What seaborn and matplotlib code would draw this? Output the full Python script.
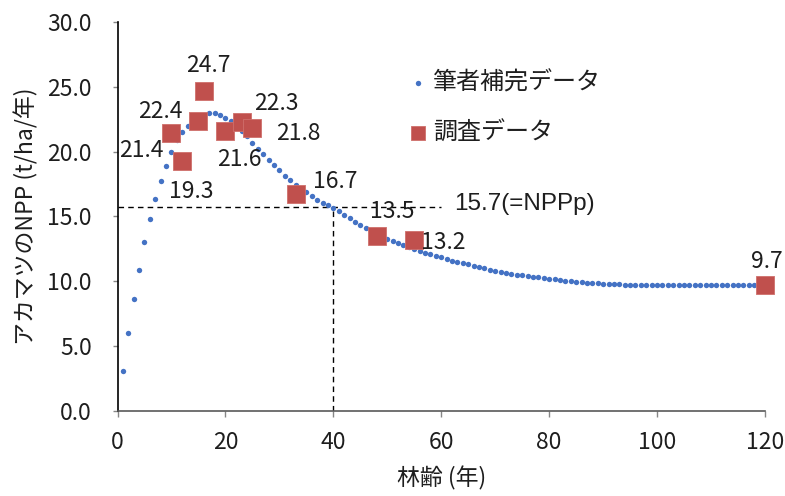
import matplotlib
matplotlib.use("Agg")
import matplotlib.pyplot as plt
import numpy as np
import pandas as pd
import seaborn as sns

# Interpolated (author-completed) NPP by stand age, 1..120 years
curve_age = list(range(1, 121))
curve_npp = [
    3.1, 6.0, 8.6, 10.9, 13.0, 14.8, 16.35, 17.75, 18.9, 20.0,
    20.9, 21.5, 21.95, 22.3, 22.6, 22.85, 23.0, 22.95, 22.8, 22.6,
    22.4, 22.0, 21.6, 21.2, 20.7, 20.2, 19.8, 19.35, 18.95, 18.55,
    18.15, 17.8, 17.45, 17.15, 16.85, 16.55, 16.3, 16.05, 15.85, 15.65,
    15.4, 15.1, 14.85, 14.6, 14.35, 14.1, 13.9, 13.7, 13.5, 13.3,
    13.1, 12.95, 12.8, 12.65, 12.5, 12.35, 12.2, 12.1, 11.95, 11.85,
    11.7, 11.6, 11.5, 11.4, 11.3, 11.2, 11.1, 11.0, 10.9, 10.8,
    10.75, 10.65, 10.6, 10.5, 10.45, 10.4, 10.35, 10.3, 10.25, 10.2,
    10.15, 10.1, 10.05, 10.0, 9.98, 9.95, 9.9, 9.88, 9.85, 9.82,
    9.8, 9.78, 9.76, 9.74, 9.72, 9.7, 9.7, 9.7, 9.7, 9.7,
    9.7, 9.7, 9.7, 9.7, 9.7, 9.7, 9.7, 9.7, 9.7, 9.7,
    9.7, 9.7, 9.7, 9.7, 9.7, 9.7, 9.7, 9.7, 9.7, 9.7,
]

# Field survey measurements
survey_age = [10, 12, 15, 16, 20, 23, 25, 33, 48, 55, 120]
survey_npp = [21.4, 19.3, 22.4, 24.7, 21.6, 22.3, 21.8, 16.7, 13.5, 13.2, 9.7]

# Label offsets (pixels) for each survey value
label_dx = [-30, 9, -38, 5, 14, 35, 46, 40, 16, 29, 2]
label_dy = [-17, -31, 9, 25, -29, 18, -5, 13, 24, -3, 24]

nppp_value = 15.7
nppp_age = 40

x_ticks = [0, 20, 40, 60, 80, 100, 120]
y_ticks = [0, 5, 10, 15, 20, 25, 30]

sns.set_theme(style="white")
plt.rcParams["font.family"] = ["Noto Sans CJK JP", "DejaVu Sans"]

BLUE = "#4472C4"
RED = "#C0504D"
GRAY = "#868686"
TXT = "#1E1E1E"
FS = 16.5

fig = plt.figure(figsize=(7.85, 4.96), dpi=100)
ax = fig.add_axes([0.1497, 0.1714, 0.8248, 0.7843])

curve_df = pd.DataFrame({"age": curve_age, "npp": curve_npp})
survey_df = pd.DataFrame({"age": survey_age, "npp": survey_npp})

# Reference lines for NPPp at age 40
ax.plot([0, 60], [nppp_value, nppp_value], color="black", lw=1.0,
        ls=(0, (4, 3)), zorder=1)
ax.plot([nppp_age, nppp_age], [0, nppp_value], color="black", lw=1.0,
        ls=(0, (4, 3)), zorder=1)
ax.text(62.3, nppp_value + 0.3, "15.7(=NPPp)", fontsize=17.5,
        family=["Liberation Sans", "DejaVu Sans"], color=TXT,
        ha="left", va="center")

sns.scatterplot(data=curve_df, x="age", y="npp", ax=ax, color=BLUE,
                s=15, linewidth=0, label="筆者補完データ", zorder=2,
                clip_on=False)
sns.scatterplot(data=survey_df, x="age", y="npp", ax=ax, color=RED,
                marker="s", s=150, linewidth=0.6, edgecolor="#CF6F6B",
                label="調査データ", zorder=3, clip_on=False)

for a, v, dx, dy in zip(survey_age, survey_npp, label_dx, label_dy):
    ax.annotate(f"{v:.1f}", (a, v), xytext=(dx, dy),
                textcoords="offset pixels", ha="center", va="center",
                fontsize=FS, color=TXT, zorder=4)

ax.set_xlim(0, 120)
ax.set_ylim(0, 30)
ax.set_xticks(x_ticks)
ax.set_xticklabels([str(t) for t in x_ticks])
ax.set_yticks(y_ticks)
ax.set_yticklabels([f"{t:.1f}" for t in y_ticks])

ax.tick_params(axis="x", bottom=True, length=4.5, width=1, color=GRAY,
               pad=10, labelsize=FS, labelcolor=TXT)
ax.tick_params(axis="y", left=True, length=3.6, width=1, color=GRAY,
               pad=15, labelsize=FS, labelcolor=TXT)

for side in ("top", "right"):
    ax.spines[side].set_visible(False)
ax.spines["left"].set_color("black")
ax.spines["left"].set_linewidth(1.2)
ax.spines["bottom"].set_color("#595959")
ax.spines["bottom"].set_linewidth(1.2)

ax.set_xlabel("林齢 (年)", fontsize=FS, color=TXT, labelpad=9)
ax.set_ylabel("アカマツのNPP (t/ha/年)", fontsize=FS, color=TXT, labelpad=6)

leg = ax.legend(loc="upper left", bbox_to_anchor=(0.435, 0.902),
                frameon=False, fontsize=17.3, handlelength=0.8,
                handletextpad=0.2, labelspacing=1.0, borderaxespad=0.0)
for t in leg.get_texts():
    t.set_color(TXT)
handles = leg.legend_handles
handles[0].set_sizes([15])
handles[1].set_sizes([100])

fig.savefig("out.png", dpi=100)
